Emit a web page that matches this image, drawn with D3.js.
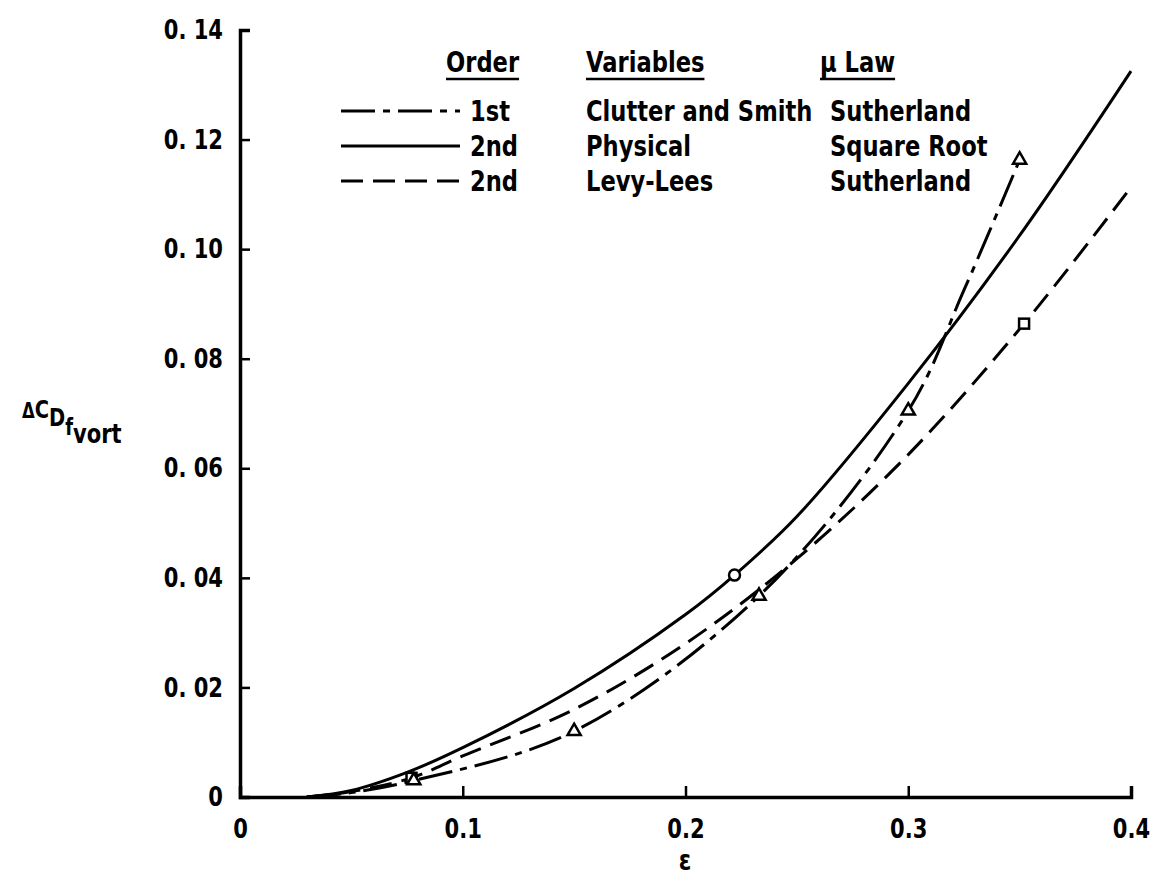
<!DOCTYPE html>
<html>
<head>
<meta charset="utf-8">
<script src="https://cdn.jsdelivr.net/npm/d3@7"></script>
<style>
  body { margin: 0; background: #fff; }
  text { font-family: "DejaVu Sans", sans-serif; font-weight: bold; fill: #000; }
</style>
</head>
<body>
<div id="chart"></div>
<script>
// data
const xTicks = [0, 0.1, 0.2, 0.3, 0.4]
const yTicks = [0, 0.02, 0.04, 0.06, 0.08, 0.10, 0.12, 0.14]

// 2nd order, physical variables, square root law (solid)
const physicalX = [0.03, 0.05, 0.075, 0.1, 0.15, 0.2, 0.222, 0.25, 0.3, 0.35, 0.4]
const physicalY = [0, 0.0012, 0.0045, 0.009, 0.0198, 0.0333, 0.0405, 0.0512, 0.0755, 0.1025, 0.1325]

// 2nd order, Levy-Lees, Sutherland (dashed)
const levyX = [0.03, 0.05, 0.077, 0.1, 0.15, 0.2, 0.25, 0.3, 0.352, 0.4]
const levyY = [0, 0.001, 0.0035, 0.0075, 0.016, 0.028, 0.0435, 0.0625, 0.0864, 0.1113]

// 1st order, Clutter and Smith, Sutherland (dash-dot)
const clutterX = [0.03, 0.05, 0.078, 0.15, 0.233, 0.3, 0.325, 0.35]
const clutterY = [0, 0.0008, 0.003, 0.012, 0.0367, 0.0705, 0.0925, 0.1163]

const circleX = [0.222], circleY = [0.0405]
const squareX = [0.077, 0.352], squareY = [0.0035, 0.0864]
const triangleX = [0.078, 0.15, 0.233, 0.3, 0.35], triangleY = [0.003, 0.012, 0.0367, 0.0705, 0.1163]

const legendOrder = ["1st", "2nd", "2nd"]
const legendVars = ["Clutter and Smith", "Physical", "Levy-Lees"]
const legendLaw = ["Sutherland", "Square Root", "Sutherland"]
const legendDash = ["34,8,7,8", null, "22,10"]

const squeeze = 0.78 // the original lettering is tall and narrow

const dims = { width: 1163, height: 890, margin: { top: 30, right: 32, bottom: 93, left: 240 } }
dims.boundedWidth = dims.width - dims.margin.left - dims.margin.right
dims.boundedHeight = dims.height - dims.margin.top - dims.margin.bottom

const svg = d3.select("#chart").append("svg")
  .attr("width", dims.width)
  .attr("height", dims.height)

const bounds = svg.append("g")
  .attr("transform", `translate(${dims.margin.left},${dims.margin.top})`)

const xScale = d3.scaleLinear().domain([0, 0.4]).range([0, dims.boundedWidth])
const yScale = d3.scaleLinear().domain([0, 0.14]).range([dims.boundedHeight, 0])

// axes, ticks pointing inward
const xAxis = bounds.append("g")
  .attr("transform", `translate(0,${dims.boundedHeight})`)
  .call(d3.axisBottom(xScale).tickValues(xTicks).tickSize(-11).tickPadding(20)
    .tickFormat(d => d === 0 ? "0" : d3.format(".1f")(d)))
const yAxis = bounds.append("g")
  .call(d3.axisLeft(yScale).tickValues(yTicks).tickSize(-10).tickPadding(17)
    .tickFormat(d => d === 0 ? "0" : d3.format(".2f")(d).replace(".", ". ")))

for (const ax of [xAxis, yAxis]) {
  ax.select(".domain").attr("stroke", "#000").attr("stroke-width", 3.5)
  ax.selectAll(".tick line").attr("stroke", "#000").attr("stroke-width", 2.5)
  ax.selectAll(".tick text").style("font-size", "27px").attr("fill", "#000")
}
xAxis.selectAll(".tick text").attr("transform", `scale(${squeeze},1)`).attr("y", 22)
yAxis.selectAll(".tick text").attr("transform", `scale(${squeeze},1)`).attr("x", -17 / squeeze)
xAxis.selectAll(".tick").filter(d => d === 0).select("line").remove()
yAxis.selectAll(".tick").filter(d => d === 0).select("line").remove()

// curves
const line = d3.line()
  .x(d => xScale(d[0]))
  .y(d => yScale(d[1]))
  .curve(d3.curveCatmullRom.alpha(0.5))

const series = [
  { x: clutterX, y: clutterY, dash: legendDash[0] },
  { x: physicalX, y: physicalY, dash: legendDash[1] },
  { x: levyX, y: levyY, dash: legendDash[2] },
]
series.forEach(s => {
  bounds.append("path")
    .datum(d3.zip(s.x, s.y))
    .attr("d", line)
    .attr("fill", "none")
    .attr("stroke", "#000")
    .attr("stroke-width", 3)
    .attr("stroke-dasharray", s.dash)
})

// markers
bounds.selectAll(".circ").data(d3.zip(circleX, circleY)).join("circle")
  .attr("cx", d => xScale(d[0])).attr("cy", d => yScale(d[1])).attr("r", 5.5)
  .attr("fill", "#fff").attr("stroke", "#000").attr("stroke-width", 2.5)
bounds.selectAll(".sq").data(d3.zip(squareX, squareY)).join("rect")
  .attr("x", d => xScale(d[0]) - 5).attr("y", d => yScale(d[1]) - 5)
  .attr("width", 10).attr("height", 10)
  .attr("fill", "#fff").attr("stroke", "#000").attr("stroke-width", 2.5)
bounds.selectAll(".tri").data(d3.zip(triangleX, triangleY)).join("path")
  .attr("transform", d => `translate(${xScale(d[0])},${yScale(d[1])})`)
  .attr("d", d3.symbol(d3.symbolTriangle, 75))
  .attr("fill", "#fff").attr("stroke", "#000").attr("stroke-width", 2.5)

// helper for squeezed text
function label(parent, x, y, size, t) {
  return parent.append("text")
    .attr("transform", `translate(${x},${y}) scale(${squeeze},1)`)
    .style("font-size", size + "px")
    .text(t)
}

// axis labels
label(svg, 685, 870, 29, "ε").attr("text-anchor", "middle")

const yLabel = svg.append("text")
  .attr("transform", `translate(22,418) scale(${squeeze},1)`)
  .style("font-size", "25px")
yLabel.append("tspan").style("font-size", "21px").text("Δ")
yLabel.append("tspan").text("C")
yLabel.append("tspan").attr("dy", 8).text("D")
yLabel.append("tspan").attr("dy", 9).style("font-size", "23px").text("f")
yLabel.append("tspan").attr("dy", 8).style("font-size", "27px").text("vort")

// legend
const legend = svg.append("g")
const headers = [["Order", 446], ["Variables", 586], ["μ Law", 820]]
headers.forEach(([t, x]) => {
  const txt = label(legend, x, 72, 29, t)
  const w = txt.node().getComputedTextLength() * squeeze
  legend.append("line").attr("x1", x).attr("x2", x + w).attr("y1", 79).attr("y2", 79)
    .attr("stroke", "#000").attr("stroke-width", 2.5)
})
const rowY = d3.scalePoint().domain(d3.range(3)).range([121, 191])
d3.range(3).forEach(i => {
  const y = rowY(i)
  legend.append("line").attr("x1", 341).attr("x2", 460).attr("y1", y - 10).attr("y2", y - 10)
    .attr("stroke", "#000").attr("stroke-width", 3).attr("stroke-dasharray", legendDash[i])
  label(legend, 470, y, 29, legendOrder[i])
  label(legend, 586, y, 29, legendVars[i])
  label(legend, 830, y, 29, legendLaw[i])
})
</script>
</body>
</html>
